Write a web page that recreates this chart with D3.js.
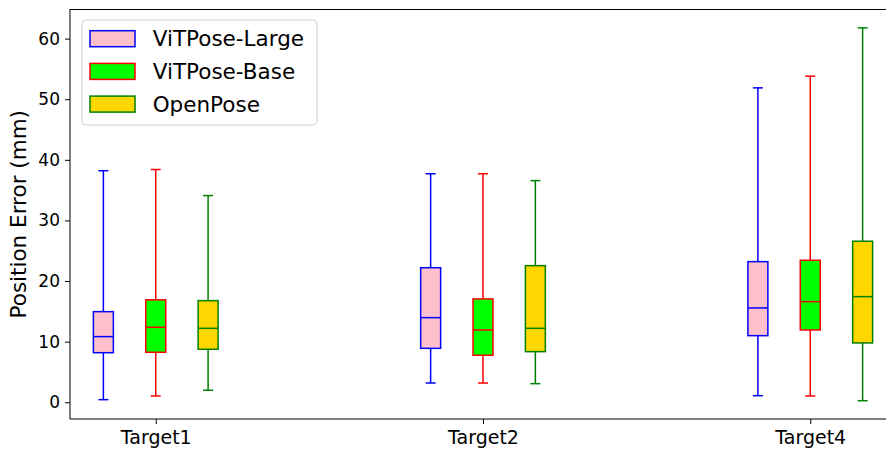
<!DOCTYPE html>
<html>
<head>
<meta charset="utf-8">
<script src="https://cdnjs.cloudflare.com/ajax/libs/d3/7.8.5/d3.min.js"></script>
<style>
  body { margin: 0; background: #fff; }
  svg { display: block; }
  svg text { font-family: "DejaVu Sans", sans-serif; }
</style>
</head>
<body>
<script>
// chart size
var width = 886,
    height = 450;

// categories on the x axis and model names
var categories = ['Target1', 'Target2', 'Target4'];
var models = ['ViTPose-Large', 'ViTPose-Base', 'OpenPose'];

// five number summaries per category: [low whisker, q1, median, q3, high whisker]
var vitLarge = [[0.43, 8.18, 10.83, 14.95, 38.2], [3.18, 8.9, 13.96, 22.2, 37.7], [1.09, 10.99, 15.56, 23.2, 51.87]];
var vitBase  = [[1.04, 8.25, 12.37, 16.9, 38.4], [3.18, 7.76, 11.93, 17.05, 37.7], [1.04, 11.93, 16.6, 23.43, 53.8]];
var openPose = [[1.98, 8.75, 12.2, 16.77, 34.1], [3.07, 8.35, 12.2, 22.54, 36.57], [0.26, 9.79, 17.43, 26.57, 61.77]];

var yTicks = [0, 10, 20, 30, 40, 50, 60];

// styling per model
var edgeColors = ['#0000ff', '#ff0000', '#008000'];
var fillColors = ['#ffc0cb', '#00ff00', '#ffd700'];
var offsets = [-0.16, 0, 0.16];
var boxW = 0.061;

var svg = d3.select('body')
  .append('svg')
  .attr('width', width)
  .attr('height', height);

// plot area (right side runs past the picture edge)
var plotL = 70, plotR = 896, plotT = 9.5, plotB = 419;

var x = d3.scaleLinear().domain([0.738, 3.262]).range([plotL, plotR]);
var y = d3.scaleLinear().domain([-2.76, 64.8]).range([plotB, plotT]);

// boxes
var series = [vitLarge, vitBase, openPose];
series.forEach(function(s, m) {
  var g = svg.append('g');
  s.forEach(function(d, i) {
    var cx = x(i + 1 + offsets[m]);
    var hw = x(boxW / 2) - x(0);
    var col = edgeColors[m];
    // whiskers
    g.append('line').attr('x1', cx).attr('x2', cx).attr('y1', y(d[0])).attr('y2', y(d[1]))
      .attr('stroke', col).attr('stroke-width', 1.5);
    g.append('line').attr('x1', cx).attr('x2', cx).attr('y1', y(d[3])).attr('y2', y(d[4]))
      .attr('stroke', col).attr('stroke-width', 1.5);
    // caps
    [d[0], d[4]].forEach(function(v) {
      g.append('line').attr('x1', cx - hw / 2).attr('x2', cx + hw / 2).attr('y1', y(v)).attr('y2', y(v))
        .attr('stroke', col).attr('stroke-width', 1.5);
    });
    // box
    g.append('rect')
      .attr('x', cx - hw).attr('width', 2 * hw)
      .attr('y', y(d[3])).attr('height', y(d[1]) - y(d[3]))
      .attr('fill', fillColors[m]).attr('stroke', col).attr('stroke-width', 1.5);
    // median
    g.append('line').attr('x1', cx - hw).attr('x2', cx + hw).attr('y1', y(d[2])).attr('y2', y(d[2]))
      .attr('stroke', col).attr('stroke-width', 1.5);
  });
});

// axes
var yAxis = d3.axisLeft(y).tickValues(yTicks).tickSize(5).tickPadding(5).tickSizeOuter(0);
var gy = svg.append('g').attr('transform', 'translate(' + plotL + ',0)').call(yAxis)
  .attr('font-family', null).attr('font-size', null);
gy.select('.domain').remove();
gy.selectAll('text').attr('font-size', 17).attr('fill', '#000');

var xAxis = d3.axisBottom(x).tickValues([1, 2, 3]).tickFormat(function(d) { return categories[d - 1]; })
  .tickSize(5).tickPadding(7).tickSizeOuter(0);
var gx = svg.append('g').attr('transform', 'translate(0,' + plotB + ')').call(xAxis)
  .attr('font-family', null).attr('font-size', null);
gx.select('.domain').remove();
gx.selectAll('text').attr('font-size', 19).attr('fill', '#000');

// spines
svg.append('rect')
  .attr('x', plotL).attr('y', plotT)
  .attr('width', plotR - plotL).attr('height', plotB - plotT)
  .attr('fill', 'none').attr('stroke', '#000').attr('stroke-width', 1);

// y label
svg.append('text')
  .attr('transform', 'translate(25.5,' + ((plotT + plotB) / 2) + ') rotate(-90)')
  .attr('text-anchor', 'middle')
  .attr('font-size', 21.5)
  .text('Position Error (mm)');

// legend
var legend = svg.append('g');
legend.append('rect')
  .attr('x', 82).attr('y', 20).attr('width', 235).attr('height', 105)
  .attr('rx', 4).attr('fill', '#fff').attr('fill-opacity', 0.8)
  .attr('stroke', '#d0d0d0').attr('stroke-width', 1);
models.forEach(function(name, i) {
  var ly = 30.7 + i * 32.7;
  legend.append('rect')
    .attr('x', 90).attr('y', ly).attr('width', 45).attr('height', 16)
    .attr('fill', fillColors[i]).attr('stroke', edgeColors[i]).attr('stroke-width', 1.5);
  legend.append('text')
    .attr('x', 152.7).attr('y', ly + 15.5)
    .attr('font-size', 21.5)
    .text(name);
});
</script>
</body>
</html>
